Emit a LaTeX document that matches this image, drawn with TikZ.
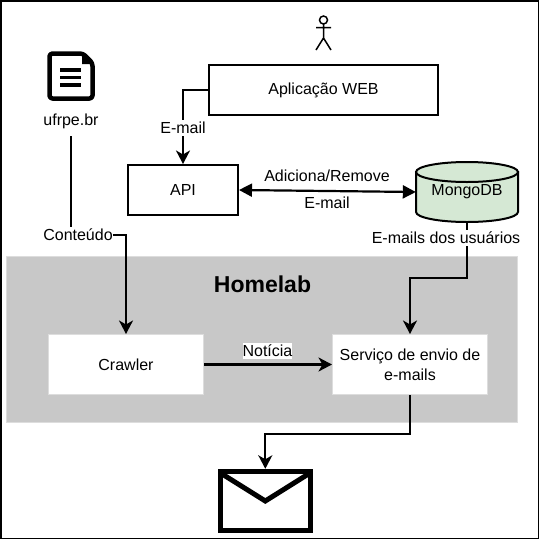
\documentclass[tikz,border=0pt]{standalone}
\usepackage{fontspec}
\setmainfont{Liberation Sans}
\usetikzlibrary{arrows.meta}
\definecolor{greyzone}{HTML}{C8C8C8}
\definecolor{greyline}{HTML}{DDDDDD}
\definecolor{mongofill}{HTML}{D5E8D4}
\tikzset{
  txt/.style={font=\fontsize{16}{20}\selectfont,inner sep=0pt,align=center,text=black},
  lbl/.style={txt,fill=white,inner xsep=1pt,inner ysep=2pt},
  boxw/.style={draw=black,line width=2pt,fill=white,txt,minimum width=#1,minimum height=50pt},
  boxh/.style={draw=greyline,line width=1pt,fill=white,txt,minimum width=155pt,minimum height=60pt},
  conn/.style={draw=black,line width=2.2pt,-{Stealth[length=13.5pt,width=14pt,inset=4pt]}},
  plainline/.style={draw=black,line width=2.2pt},
  bidir/.style={draw=black,line width=2.2pt,{Triangle[length=13pt,width=13pt]}-{Triangle[length=13pt,width=13pt]}},
  iconline/.style={draw=black,line width=3.8pt},
}
\begin{document}
\begin{tikzpicture}[x=1pt,y=-1pt]
\useasboundingbox (0,0) rectangle (539,539);
\fill[white] (0,0) rectangle (539,539);
\draw[black,line width=1.5pt] (0.75,0.75) rectangle (538.25,538.25);
% Homelab zone
\node[draw=greyline,fill=greyzone,line width=1pt,minimum width=511pt,minimum height=166pt,inner sep=0pt] (zone) at (262,339.5) {};
\node[txt,font=\fontsize{23}{27}\selectfont\bfseries] (homelab) at (262.5,284) {Homelab};
% Boxes
\node[boxw=229pt] (app) at (323.5,90) {Aplicação WEB};
\node[boxw=110pt] (api) at (183,190) {API};
\node[boxh] (crawler) at (126,364.5) {Crawler};
\node[boxh] (servico) at (410,364.5) {Serviço de envio de\\e-mails};
% MongoDB cylinder
\node[minimum width=102pt,minimum height=60pt,inner sep=0pt] (mongo) at (467,192) {};
\filldraw[fill=mongofill,draw=black,line width=2pt]
  (416,172) -- (416,212) arc[x radius=51,y radius=10,start angle=180,end angle=0]
  -- (518,172) -- cycle;
\filldraw[fill=mongofill,draw=black,line width=2pt] (467,172) ellipse[x radius=51,y radius=10];
\node[txt] (mongotxt) at (467,192) {MongoDB};
% Icons
\node[minimum width=48pt,minimum height=50pt,inner sep=0pt] (doc) at (71,76) {};
\draw[black,line width=4.5pt,line join=round,fill=white,rounded corners=3pt]
  (49.5,53.5) -- (83,53.5) -- (92.5,63) -- (92.5,98.5) -- (49.5,98.5) -- cycle;
\fill[black] (82,52) -- (94,64) -- (82,64) -- cycle;
\draw[iconline] (60,70) -- (81,70) (60,77.5) -- (81,77.5) (60,85) -- (81,85);
\node[minimum width=94pt,minimum height=64pt,inner sep=0pt] (mail) at (265.3,501) {};
\draw[black,line width=5pt,fill=white,miter limit=10] (220.5,471.5) rectangle (310,530.5);
\draw[black,line width=5pt] (220.5,473) -- (265.3,501) -- (310,473);
\node[minimum width=16pt,minimum height=34pt,inner sep=0pt] (person) at (323.5,33) {};
\draw[black,line width=1.5pt] (323.5,20) circle[radius=4]
  (323.5,24) -- (323.5,38) (316,27.5) -- (331,27.5) (316,50) -- (323.5,38) -- (331,50);
% Labels
\node[txt] (ufrpe) at (71,121) {ufrpe.br};
\node[lbl,inner xsep=0pt] (conteudo) at (78,235) {Conteúdo};
\node[lbl] (email1) at (183,128) {E-mail};
\node[txt] (adic) at (327,176) {Adiciona/Remove};
\node[txt] (email2) at (327,203) {E-mail};
\node[lbl] (usuarios) at (446,238) {E-mails dos usuários};
\node[lbl,inner xsep=0pt,inner ysep=2pt] (noticia) at (267.5,351) {Notícia};
% Connectors
\coordinate (appturn) at (183,90);
\draw[plainline] (app.west) -- (appturn) -- (email1.north);
\draw[conn] (email1.south) -- (api.north);
\draw[bidir] (api.east) -- (mongo.west);
\coordinate (uf0) at (71,136);
\draw[plainline] (uf0) -- (uf0 |- conteudo.north);
\draw[conn] (conteudo.east) -| (crawler.north);
\draw[plainline] (mongo.south) -- (usuarios.north -| mongo.south);
\coordinate (mturn) at (467,278);
\coordinate (mturn2) at (410,278);
\draw[conn] (usuarios.south -| mongo.south) -- (mturn) -- (mturn2) -- (servico.north);
\draw[conn] (crawler.east) -- (servico.west);
\coordinate (sturn) at (410,434);
\coordinate (sturn2) at (265.3,434);
\draw[conn] (servico.south) -- (sturn) -- (sturn2) -- (mail.north);
\end{tikzpicture}
\end{document}
